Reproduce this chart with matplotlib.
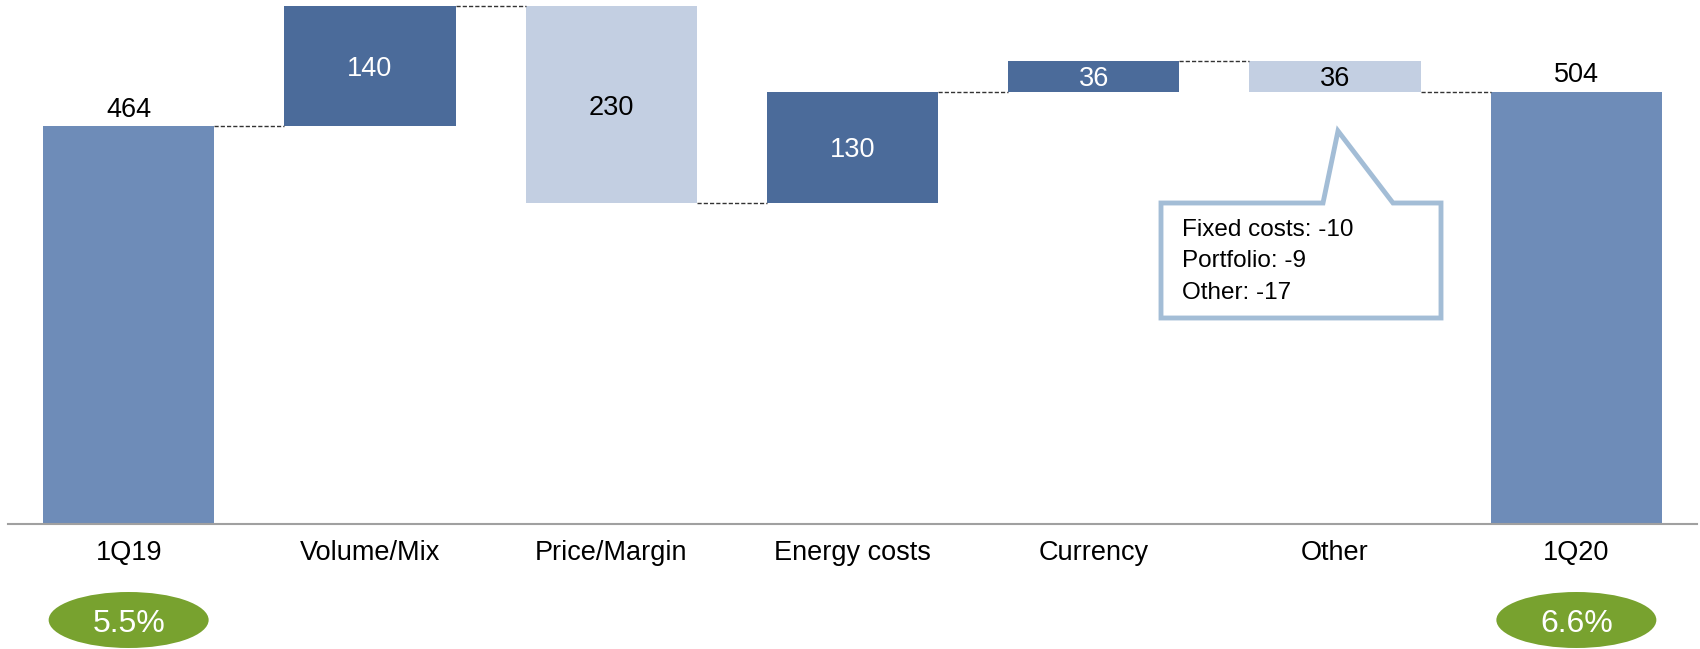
import matplotlib
matplotlib.use("Agg")
import matplotlib.pyplot as plt
import matplotlib.transforms as mtransforms
from matplotlib.patches import Ellipse, Polygon

plt.rcParams["font.family"] = ["Liberation Sans", "DejaVu Sans"]

# data
categories = ["1Q19", "Volume/Mix", "Price/Margin", "Energy costs", "Currency", "Other", "1Q20"]
changes    = [464, 140, -230, 130, 36, -36, 504]   # first/last are totals
is_total   = [True, False, False, False, False, False, True]
margins    = {"1Q19": "5.5%", "1Q20": "6.6%"}
callout_lines = ["Fixed costs: -10", "Portfolio: -9", "Other: -17"]

C_TOTAL = "#6E8CB8"
C_UP    = "#4B6B9A"
C_DOWN  = "#C3CFE2"
C_GREEN = "#78A22F"
C_CALL  = "#A3BDD6"

W, H = 1700, 649
fig = plt.figure(figsize=(W / 100, H / 100), dpi=100)
ax = fig.add_axes([8 / W, 125.3 / H, 1689 / W, 523.7 / H])

bar_w = 0.71
level = 0
for i, (cat, v, tot) in enumerate(zip(categories, changes, is_total)):
    if tot:
        b, t = 0, v
        level = v
        col = C_TOTAL
    else:
        b, t = (level, level + v) if v >= 0 else (level + v, level)
        level += v
        col = C_UP if v >= 0 else C_DOWN
    ax.bar(i, t - b, bottom=b, width=bar_w, color=col, linewidth=0)
    if tot:
        ax.text(i, t + 11, f"{abs(v)}", ha="center", va="baseline", fontsize=19.5, color="black")
    else:
        tc = "white" if v >= 0 else "black"
        ax.text(i, (b + t) / 2, f"{abs(v)}", ha="center", va="center_baseline",
                fontsize=19.5, color=tc)

# dashed connectors
level = 0
for i, v in enumerate(changes[:-1]):
    level = v if is_total[i] else level + v
    ax.plot([i + bar_w / 2, i + 1 - bar_w / 2], [level, level],
            color="#333333", lw=1.0, ls=(0, (3, 1.5)))

ax.set_xlim(-0.5, len(categories) - 0.5)
ax.set_ylim(0, 611)
ax.set_yticks([])
ax.set_xticks(range(len(categories)))
ax.set_xticklabels(categories, fontsize=19.5)
ax.tick_params(axis="x", length=0, pad=12)
for s in ["top", "right", "left"]:
    ax.spines[s].set_visible(False)
ax.spines["bottom"].set_color("#A0A0A0")
ax.spines["bottom"].set_linewidth(1.5)

# margin ellipses
trans = mtransforms.blended_transform_factory(ax.transData, fig.transFigure)
for cat, txt in margins.items():
    i = categories.index(cat)
    e = Ellipse((i, 1 - 620 / H), 160 / 241.3, 56 / H, transform=trans,
                facecolor=C_GREEN, edgecolor="none", clip_on=False)
    fig.add_artist(e)
    fig.text(i, 1 - 620 / H, txt, transform=trans, ha="center", va="center_baseline",
             fontsize=23, color="white", zorder=5)

# callout box
pts = [(1161, 203), (1323, 203), (1338, 131), (1393, 203), (1441, 203),
       (1441, 318), (1161, 318)]
poly = Polygon([(x / W, 1 - y / H) for x, y in pts], closed=True,
               transform=fig.transFigure, facecolor="white", edgecolor=C_CALL,
               lw=3.5, joinstyle="miter")
fig.add_artist(poly)
for k, line in enumerate(callout_lines):
    fig.text(1182 / W, 1 - (230 + 31.5 * k) / H, line, ha="left", va="center",
             fontsize=17.5, color="black", zorder=5)

fig.savefig("out.png", dpi=100)
